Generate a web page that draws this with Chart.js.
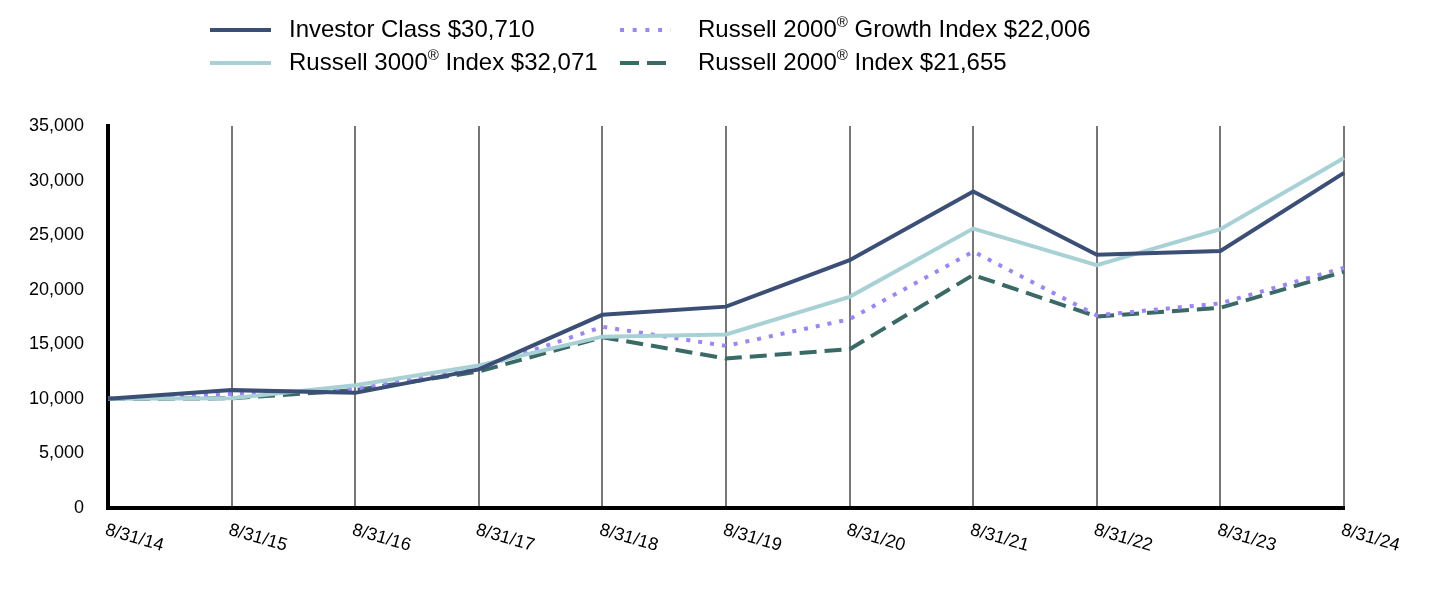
<!DOCTYPE html>
<html>
<head>
<meta charset="utf-8">
<script src="https://cdn.jsdelivr.net/npm/chart.js@4"></script>
<style>
    html, body { margin: 0; padding: 0; background: #fff; }
    #wrap { width: 1432px; height: 596px; }
</style>
</head>
<body>
<div id="wrap"><canvas id="growthChart" width="1432" height="596"></canvas></div>
<script>
// ==== DỮ LIỆU ====
const dates = ["8/31/14", "8/31/15", "8/31/16", "8/31/17", "8/31/18", "8/31/19",
    "8/31/20", "8/31/21", "8/31/22", "8/31/23", "8/31/24"];

const investorClass = [10000, 10800, 10550, 12700, 17700, 18450, 22700, 29000, 23200, 23550, 30710];
const russell3000 = [10000, 10050, 11250, 13050, 15700, 15900, 19350, 25600, 22250, 25550, 32071];
const russell2000Growth = [10000, 10450, 10900, 12800, 16600, 14850, 17300, 23500, 17650, 18750, 22006];
const russell2000 = [10000, 10050, 10800, 12500, 15650, 13700, 14550, 21350, 17550, 18350, 21655];

const seriesLabels = [
    "Investor Class $30,710",
    "Russell 3000® Index $32,071",
    "Russell 2000® Growth Index $22,006",
    "Russell 2000® Index $21,655",
];

const yTicks = [0, 5000, 10000, 15000, 20000, 25000, 30000, 35000];

const FONT = "Liberation Sans, Arial, sans-serif";

// ==== LEGEND 2 CỘT (vẽ tay trên canvas) ====
function drawSupText(ctx, text, x, y, size) {
    const parts = text.split("®");
    let cx = x;
    parts.forEach((part, i) => {
        ctx.font = `${size}px ${FONT}`;
        ctx.fillText(part, cx, y);
        cx += ctx.measureText(part).width;
        if (i < parts.length - 1) {
            ctx.font = `${Math.round(size * 0.62)}px ${FONT}`;
            ctx.fillText("®", cx, y - size * 0.28);
            cx += ctx.measureText("®").width;
        }
    });
}

const legendPlugin = {
    id: "twoColLegend",
    afterDraw(chart) {
        const ctx = chart.ctx;
        // vị trí: [x mẫu, độ dài mẫu, x chữ, y hàng]
        const slots = [
            [210, 61, 289, 30],
            [210, 61, 289, 63],
            [620, 51, 698, 30],
            [620, 51, 698, 63],
        ];
        chart.data.datasets.forEach((ds, i) => {
            const [sx, len, tx, ty] = slots[i];
            ctx.save();
            ctx.strokeStyle = ds.borderColor;
            ctx.lineWidth = 4;
            ctx.setLineDash(ds.legendDash || []);
            ctx.beginPath();
            ctx.moveTo(sx, ty);
            ctx.lineTo(sx + len, ty);
            ctx.stroke();
            ctx.restore();

            ctx.save();
            ctx.fillStyle = "#000";
            ctx.textBaseline = "middle";
            ctx.textAlign = "left";
            drawSupText(ctx, ds.label, tx, ty, 24);
            ctx.restore();
        });
    },
};

// ==== NHÃN TRỤC X XOAY XUỐNG ====
const xLabelPlugin = {
    id: "rotatedXLabels",
    afterDraw(chart) {
        const ctx = chart.ctx;
        const xScale = chart.scales.x;
        const base = chart.chartArea.bottom + 13;
        ctx.save();
        ctx.fillStyle = "#000";
        ctx.font = `18px ${FONT}`;
        ctx.textAlign = "left";
        ctx.textBaseline = "top";
        chart.data.labels.forEach((lbl, i) => {
            const x = xScale.getPixelForTick(i);
            ctx.save();
            ctx.translate(x, base);
            ctx.rotate((16 * Math.PI) / 180);
            ctx.fillText(lbl, 0, 0);
            ctx.restore();
        });
        ctx.restore();
    },
};

// ==== BIỂU ĐỒ ====
const ctx = document.getElementById("growthChart").getContext("2d");

new Chart(ctx, {
    type: "line",
    data: {
        labels: dates,
        datasets: [
            {
                label: seriesLabels[0],
                data: investorClass,
                borderColor: "#3b4f76",
                borderWidth: 4,
                order: 0,
            },
            {
                label: seriesLabels[1],
                data: russell3000,
                borderColor: "#a8d1d5",
                borderWidth: 4,
                order: 1,
            },
            {
                label: seriesLabels[2],
                data: russell2000Growth,
                borderColor: "#9b85fb",
                borderWidth: 4,
                borderDash: [4, 8],
                legendDash: [4, 8.7],
                order: 2,
            },
            {
                label: seriesLabels[3],
                data: russell2000,
                borderColor: "#3a6a65",
                borderWidth: 4,
                borderDash: [17, 8],
                legendDash: [19, 8],
                order: 3,
            },
        ],
    },
    options: {
        responsive: false,
        animation: false,
        layout: { padding: { top: 126, right: 88, left: 0, bottom: 0 } },
        elements: {
            point: { radius: 0 },
            line: { tension: 0, borderCapStyle: "butt" },
        },
        plugins: {
            legend: { display: false },
            tooltip: { enabled: false },
        },
        scales: {
            x: {
                offset: false,
                ticks: { display: false },
                grid: {
                    color: "#777",
                    lineWidth: 2,
                    drawTicks: false,
                },
                border: { display: true, color: "#000", width: 4 },
                afterFit: (scale) => { scale.height = 88; },
            },
            y: {
                min: 0,
                max: 35000,
                afterBuildTicks: (scale) => {
                    scale.ticks = yTicks.map((v) => ({ value: v }));
                },
                ticks: {
                    color: "#000",
                    padding: 24,
                    font: { family: FONT, size: 18 },
                    callback: (v) => v.toLocaleString("en-US"),
                },
                grid: { display: false, drawTicks: false },
                border: { display: true, color: "#000", width: 4 },
                afterFit: (scale) => { scale.width = 108; },
            },
        },
    },
    plugins: [legendPlugin, xLabelPlugin],
});
</script>
</body>
</html>
